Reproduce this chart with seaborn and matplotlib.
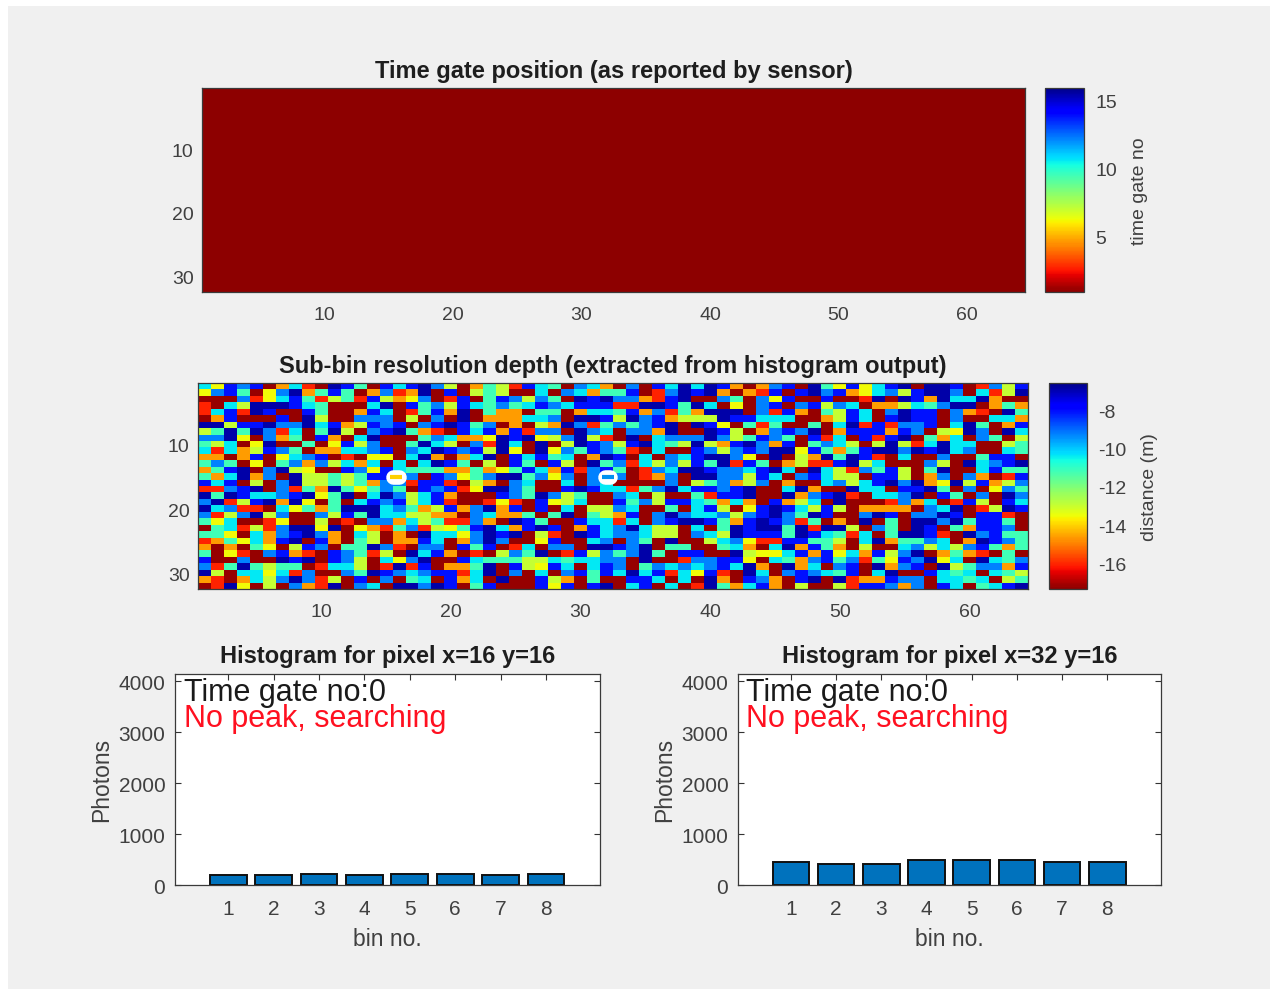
"""
Sensor readout window: time gate map, depth map and two pixel histograms.
"""
import numpy as np
import pandas as pd
import matplotlib
matplotlib.use("Agg")
import matplotlib.pyplot as plt
from matplotlib.colors import ListedColormap
from matplotlib.patches import Rectangle
from matplotlib.transforms import ScaledTranslation
import seaborn as sns

FIG_W, FIG_H = 1270, 989
GREY = "#f0f0f0"
TEXT = "#404040"

# colour read from each depth cell: d dark red, r red, o orange, y yellow, g lime,
# t teal, c cyan, l light blue, b blue, n navy
level_distance = {"d": -17.2, "r": -16.0, "o": -14.6, "y": -13.5, "g": -12.9,
                  "t": -11.1, "c": -10.3, "l": -9.2, "b": -8.0, "n": -6.8}

depth_cols_01_16 = [
    "cyblbdocrdnbtdbc", "ylbtdylnotbtdolr", "dddlrycbtrgtrbgo", "rdcgnnnbctdddcnd",
    "rcbrnbddbtddobcd", "dobdddbdngddllld", "nngbbnllncbogblb", "gtntnlrcdtngdlbn",
    "llnydlotdbodcndd", "tgcdynddtdybgldd", "crcogbltdoocclbd", "oodobdyclbdrdyyd",
    "tltdydtlolgcocdc", "otbndlngyddblybc", "tocnoldnggtgtbbo", "bcbdgdlnggtgtoll",
    "rrlbndlrtontytlt", "ntnbcclbnytndcnl", "lnrgbnonydtdcblb", "nclrrdcytotnnncl",
    "lrglnglddlgbtncc", "tycddryddgdrdllo", "dtcrgrlnnyndyort", "ttydcolbnlodcgdo",
    "rotycobndbodtgdo", "ododtydgbldttnlr", "tdyrdlbordbltrgd", "bddlddnbndblgdcy",
    "lrtntgttdrccgdrn", "ngdccycrlddltnbl", "ordocglnlrgdbdld", "drnydgdlorndlcdn",
]
depth_cols_17_32 = [
    "bnlgdotgrbctdlco", "ondbdgtgddcdlcot", "yldrbdtblgltdnbn", "btlgbctltcblcbbb",
    "rtbondtoodttdocc", "gdldndoooccldnnb", "dlbnbtldodgonlrt", "tordbcbobrlldnlc",
    "dtlcooynbnyglngr", "tncgdlrncdndgnbl", "lcnblbgnydnyltbl", "cnodocndbcbtcdon",
    "dcnbtdgdbtdbgdnt", "tttootoytbcobrlb", "ldblytlnntlyldlc", "rbbrdgodlcddcdlc",
    "dblbrynnltddbnbc", "gcbodddbltnlgtdd", "gcbrddryrdbygcdd", "togbolnobdbdcdgg",
    "ggoodlcootdtndtg", "cgtrrlodnbtddbcc", "lrgytbncobnbdobc", "dnccylnbndgrdnbc",
    "obcdolnlddybddcl", "dlldbtbdrcdlldnn", "ncbodrdgltndrbgl", "lnddbctttggctccl",
    "rbdootndbgybcdcb", "clbbrcndldcdlbtb", "tcdbocdnddbgodtd", "nlnbdtbdddbybdbn",
]
depth_cols_33_48 = [
    "dldbcncnbodolbdn", "tbdrlnbnodorbdbn", "llorbnddltdlybdd", "rrnnbtncdydlbdlb",
    "tbolrtonnndlrbod", "gnlbogggnbbcccdd", "ltlbndnbydtrtddt", "dllonddnbgdolbln",
    "dndclllnlgtbltdb", "gbnctgngobnlobdt", "trdcddblglblnnyb", "bdcdlcbnnlydndgo",
    "lrcglgbtnrbtdogr", "tdrlcnnbllcbncdn", "ldroldnnllgbcdlb", "ddddldgtlogldodd",
    "crtlncbblbnddcno", "lcdgddtrbbnddnol", "btlgbbctocodbogc", "lcddtdcbgdybnbcg",
    "obdlnlcclglbnltn", "rcdlbnnbtobnblrt", "lncggdcdtnbnntnr", "llcggdlcgnbbbtnb",
    "dltdnddgclyrrbbt", "blndttddtcodcnob", "tlntdbbddngyycbo", "ldnddrllbbydctol",
    "ldtlclclbcnodnoc", "cncbrcybrdncdlbl", "dbbcdcdnodblodbn", "dcbdcdrntocbodgd",
]
depth_cols_49_64 = [
    "tybycbndnnbdrlgb", "lboyclgbnnldcrgn", "bddrndnbonccnodd", "glcdoogctlnndoto",
    "tgbcdlnbbdlordnt", "ogbcdbnbbdlddcco", "dcnrbrllbdcntdob", "dobbbobldgynldnc",
    "rcdbrbndtocdltdg", "lcgdgngrcnccddgt", "totbnnlnbnclddct", "ntnbrdcddlddtbbd",
    "rbngcdddlgdnclbn", "cgrltbgdtnddcbtt", "cggdbbgdoldlodrb", "clgcbnlnoyngbogl",
    "ddnccdbbntdldylt", "bnrdcclndbtdldnl", "dndddrlocdrbgdbc", "bgdoooodlcndrgnb",
    "bddlnbdllnbdbbrd", "dodndtdnnlntbbtd", "nngdltdnbdtobbld", "ctrcdtnnbrdnlbtt",
    "tgdcnottlcdonblt", "todgddclgcglbtot", "bycobglndotordtd", "btlrtyblnycdnctl",
    "dlbdnolbdngtllob", "ctbdcnddbctcdctg", "dnrooblldcctcdgt", "dgrbbloldbcdtcbn",
]

time_gate_no = 1
bins = [1, 2, 3, 4, 5, 6, 7, 8]
photons_x16 = [190, 190, 225, 190, 225, 225, 190, 225]
photons_x32 = [450, 410, 410, 480, 480, 480, 450, 450]

axis_ticks = [10, 20, 30, 40, 50, 60]
row_ticks = [10, 20, 30]
gate_cbar_ticks = [5, 10, 15]
depth_cbar_ticks = [-16, -14, -12, -10, -8]
photon_ticks = [0, 1000, 2000, 3000, 4000]

sns.set_theme(style="white")
plt.rcParams["font.family"] = ["Liberation Sans", "DejaVu Sans"]
plt.rcParams["text.color"] = TEXT
plt.rcParams["axes.labelcolor"] = TEXT
plt.rcParams["xtick.color"] = TEXT
plt.rcParams["ytick.color"] = TEXT
plt.rcParams["axes.unicode_minus"] = False

jet = plt.get_cmap("jet_r")
jet_map = ListedColormap(jet(np.linspace(0.012, 0.99, 256)))


def px_axes(fig, left, top, right, bottom):
    """Axes placed by pixel edges of the window"""
    return fig.add_axes([left / FIG_W, 1 - bottom / FIG_H,
                         (right - left) / FIG_W, (bottom - top) / FIG_H])


def style_box(ax):
    for spine in ax.spines.values():
        spine.set_visible(True)
        spine.set_color("#3a3a3a")
        spine.set_linewidth(0.9)


def nudge_labels(fig, labels, down_px):
    """Moves tick labels a few pixels down"""
    offset = ScaledTranslation(0, -down_px / 100, fig.dpi_scale_trans)
    for label in labels:
        label.set_transform(label.get_transform() + offset)


def draw_map(fig, data, box, cbar_box, title, vmin, vmax, cbar_ticks, cbar_label, label_x):
    ax = px_axes(fig, *box)
    cax = px_axes(fig, *cbar_box)
    sns.heatmap(data, ax=ax, cbar_ax=cax, cmap=jet_map, vmin=vmin, vmax=vmax,
                xticklabels=False, yticklabels=False,
                cbar_kws={"ticks": cbar_ticks})
    ax.set_xticks([t - 0.5 for t in axis_ticks], [str(t) for t in axis_ticks])
    ax.set_yticks([t - 0.5 for t in row_ticks], [str(t) for t in row_ticks], rotation=0)
    ax.tick_params(direction="in", length=4, width=0.8, top=True, right=True,
                   bottom=True, left=True, labelsize=14, color="#333333")
    ax.tick_params(axis="x", pad=11)
    ax.tick_params(axis="y", pad=6)
    nudge_labels(fig, ax.get_yticklabels(), 1.5)
    ax.set_xlabel("")
    ax.set_ylabel("")
    ax.set_title(title, fontsize=17, fontweight="bold", color="#1e1e1e", pad=7)
    style_box(ax)
    cax.tick_params(direction="in", length=2.5, width=0.8, right=True, labelsize=14,
                    pad=8, color="#333333")
    colorbar = ax.collections[0].colorbar
    colorbar.outline.set_linewidth(0.9)
    colorbar.outline.set_edgecolor("#3a3a3a")
    fig.text(label_x / FIG_W, 1 - (box[1] + box[3]) / 2 / FIG_H - 0.001, cbar_label,
             rotation=90, fontsize=14, ha="center", va="center", color=TEXT)
    return ax


def draw_hist(fig, values, box, title):
    ax = px_axes(fig, *box)
    frame = pd.DataFrame({"bin": bins, "photons": values})
    sns.barplot(data=frame, x="bin", y="photons", ax=ax, color="#0072BD", saturation=1,
                width=0.81, edgecolor="#101010", linewidth=1.4)
    ax.set_xlim(-1.17, 8.19)
    ax.set_ylim(0, 4130)
    ax.set_yticks(photon_ticks, [str(t) for t in photon_ticks])
    ax.tick_params(direction="in", length=4, width=0.8, top=True, right=True,
                   bottom=True, left=True, labelsize=15, color="#333333")
    ax.tick_params(axis="x", pad=11)
    ax.tick_params(axis="y", pad=7)
    nudge_labels(fig, ax.get_yticklabels(), 2)
    ax.set_xlabel("bin no.", fontsize=16.5, labelpad=6)
    ax.set_ylabel("Photons", fontsize=16.5, labelpad=4)
    ax.set_title(title, fontsize=17, fontweight="bold", color="#1e1e1e", pad=8)
    ax.set_facecolor("white")
    style_box(ax)
    ax.text(0.02, 0.909, "Time gate no:0", transform=ax.transAxes, fontsize=22,
            color="#1a1a1a", va="center")
    ax.text(0.02, 0.787, "No peak, searching", transform=ax.transAxes, fontsize=22,
            color="#ff1020", va="center")
    return ax


def mark_pixel(ax, x, y, colour):
    ax.plot([x - 0.2, x + 0.2], [y, y], color="white", lw=10.5, solid_capstyle="round")
    ax.plot([x - 0.45, x + 0.45], [y, y], color=colour, lw=3, solid_capstyle="butt")


depth_rows = [a + b + c + d for a, b, c, d in
              zip(depth_cols_01_16, depth_cols_17_32, depth_cols_33_48, depth_cols_49_64)]
depth = np.array([[level_distance[c] for c in row] for row in depth_rows])
gate = np.full((32, 64), time_gate_no)

fig = plt.figure(figsize=(FIG_W / 100, FIG_H / 100), dpi=100, facecolor="white")
fig.patches.append(Rectangle((8 / FIG_W, 0), 1, 1 - 6 / FIG_H, transform=fig.transFigure,
                             facecolor=GREY, edgecolor="none", zorder=-10))

draw_map(fig, gate, (202, 88, 1025, 292), (1045, 88, 1084, 292),
         "Time gate position (as reported by sensor)", 1, 16,
         gate_cbar_ticks, "time gate no", 1140)
depth_ax = draw_map(fig, depth, (198, 383, 1028, 589), (1049, 383, 1087, 589),
                    "Sub-bin resolution depth (extracted from histogram output)", -17.3, -6.5,
                    depth_cbar_ticks, "distance (m)", 1150)
mark_pixel(depth_ax, 15.27, 14.6, "#ffd000")
mark_pixel(depth_ax, 31.6, 14.6, "#0090f0")

draw_hist(fig, photons_x16, (175, 674, 600, 885), "Histogram for pixel x=16 y=16")
draw_hist(fig, photons_x32, (738, 674, 1161, 885), "Histogram for pixel x=32 y=16")

fig.savefig("out.png", dpi=100, facecolor=fig.get_facecolor())
